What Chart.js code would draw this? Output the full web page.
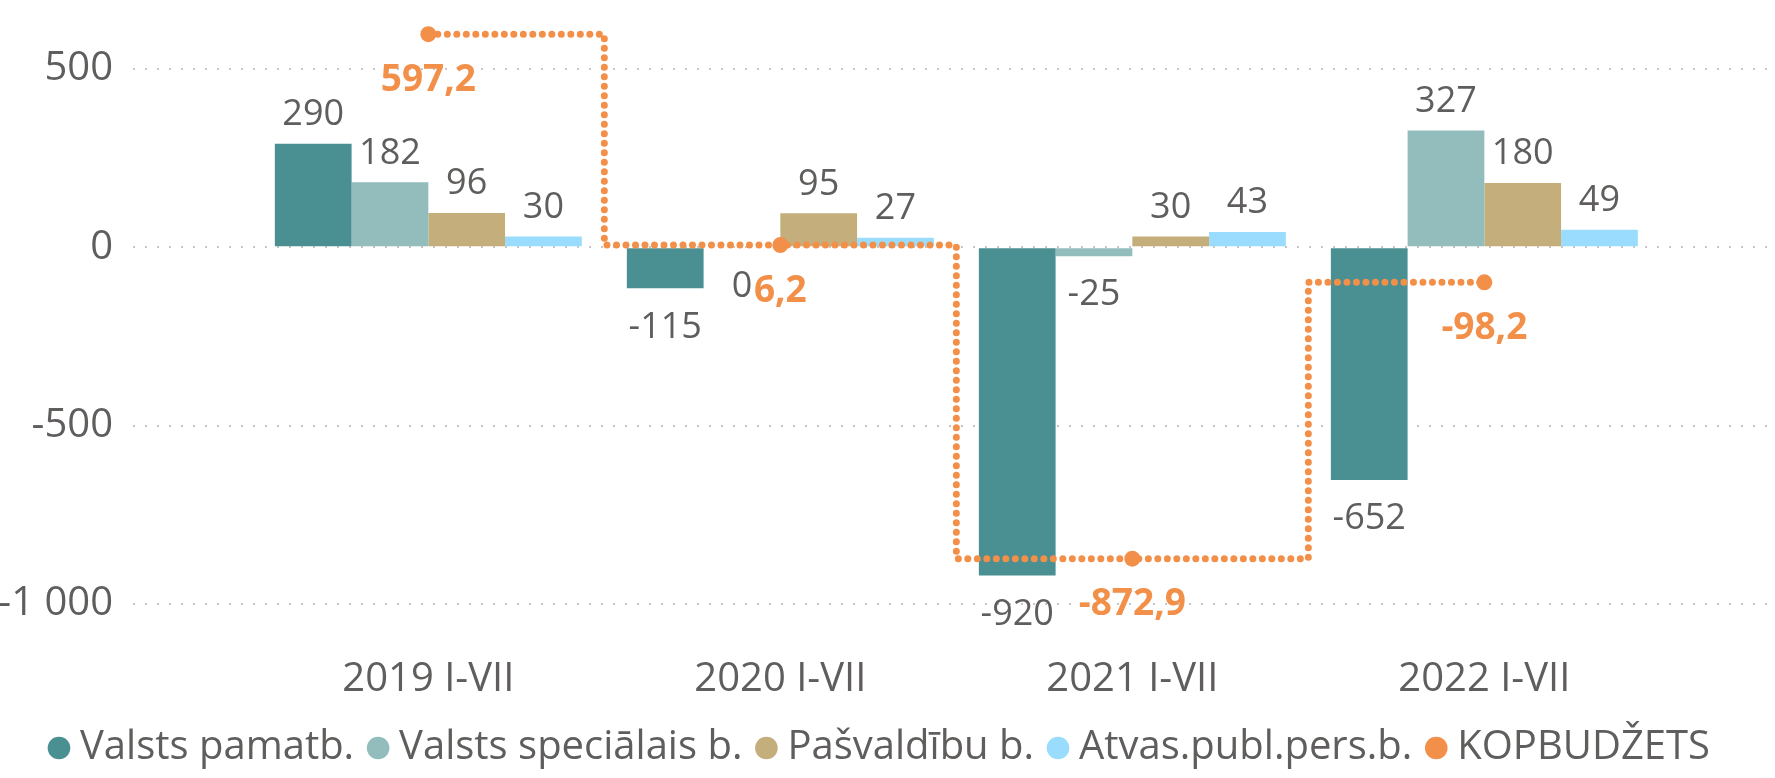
<!DOCTYPE html>
<html>
<head>
<meta charset="utf-8">
<script src="https://cdn.jsdelivr.net/npm/chart.js@4"></script>
<style>
  html, body { margin: 0; padding: 0; background: #fff; }
</style>
</head>
<body>
<canvas id="chart" width="1775" height="778"></canvas>
<script>
// dati (milj. EUR)
const categories = ["2019 I-VII", "2020 I-VII", "2021 I-VII", "2022 I-VII"];
const valstsPamatb = [290, -115, -920, -652];
const valstsSpecialais = [182, 0, -25, 327];
const pasvaldibu = [96, 95, 30, 180];
const atvasPubl = [30, 27, 43, 49];
const kopbudzets = [597.2, 6.2, -872.9, -98.2];
const yTicks = [-1000, -500, 0, 500];

const gray = "#605E5C";
const orange = "#F2904A";
const font = "'Open Sans', 'Noto Sans', sans-serif";

Chart.defaults.font.family = font;
Chart.defaults.color = gray;

const toPoints = arr => arr.map((v, i) => ({ x: i, y: v }));
const fmtThousands = v => {
  const s = Math.abs(v).toString().replace(/\B(?=(\d{3})+(?!\d))/g, " ");
  return (v < 0 ? "-" : "") + s;
};

// vērtību uzraksti virs / zem stabiņiem un līnijas
const valueLabels = {
  id: "valueLabels",
  afterDatasetsDraw(chart) {
    const ctx = chart.ctx;
    ctx.save();
    ctx.textAlign = "center";
    ctx.textBaseline = "middle";
    chart.data.datasets.forEach((ds, di) => {
      const meta = chart.getDatasetMeta(di);
      meta.data.forEach((el, i) => {
        const v = ds.data[i].y;
        if (ds.type === "line") {
          ctx.font = "bold 37px " + font;
          ctx.fillStyle = orange;
          ctx.fillText(v.toFixed(1).replace(".", ","), el.x, el.y + 46);
        } else {
          ctx.font = "36px " + font;
          ctx.fillStyle = gray;
          const y = v > 0 ? el.y - 29 : el.y + 39;
          ctx.fillText(String(v), el.x, y);
        }
      });
    });
    ctx.restore();
  }
};

new Chart(document.getElementById("chart"), {
  type: "bar",
  data: {
    datasets: [
      { label: "Valsts pamatb.", data: toPoints(valstsPamatb), backgroundColor: "#4A8F92" },
      { label: "Valsts speciālais b.", data: toPoints(valstsSpecialais), backgroundColor: "#93BDBD" },
      { label: "Pašvaldību b.", data: toPoints(pasvaldibu), backgroundColor: "#C4AF7C" },
      { label: "Atvas.publ.pers.b.", data: toPoints(atvasPubl), backgroundColor: "#9ADCFD" },
      {
        type: "line",
        label: "KOPBUDŽETS",
        data: toPoints(kopbudzets),
        borderColor: orange,
        backgroundColor: orange,
        borderWidth: 7,
        borderDash: [0, 9.5],
        borderCapStyle: "round",
        stepped: "middle",
        pointRadius: 8,
        pointBorderWidth: 0,
        pointBackgroundColor: orange,
        clip: false,
        order: -1
      }
    ]
  },
  options: {
    responsive: false,
    animation: false,
    categoryPercentage: 0.872,
    barPercentage: 1.0,
    layout: { padding: { top: 20, right: 7, bottom: 0, left: 0 } },
    scales: {
      x: {
        type: "linear",
        offset: false,
        min: -0.839,
        max: 3.803,
        grid: { display: false },
        border: { display: false },
        afterBuildTicks: scale => { scale.ticks = categories.map((_, i) => ({ value: i })); },
        afterFit: scale => { scale.height = 61; },
        ticks: {
          padding: 4,
          font: { size: 40 },
          color: gray,
          callback: v => categories[v]
        }
      },
      y: {
        min: -1112,
        max: 637,
        border: { display: false, dash: [2, 10] },
        grid: { color: "#C8C6C4", lineWidth: 2, drawTicks: false },
        afterBuildTicks: scale => { scale.ticks = yTicks.map(v => ({ value: v })); },
        afterFit: scale => {
          scale.width = 133;
          scale.paddingTop = 0;
          scale.paddingBottom = 0;
        },
        ticks: {
          padding: 20,
          font: { size: 40 },
          color: gray,
          callback: v => fmtThousands(v)
        }
      }
    },
    plugins: {
      tooltip: { enabled: false },
      legend: {
        position: "bottom",
        labels: {
          usePointStyle: true,
          pointStyle: "circle",
          boxWidth: 2,
          boxHeight: 16,
          padding: 23,
          font: { size: 40 },
          color: gray,
          sort: (a, b) => a.datasetIndex - b.datasetIndex,
          generateLabels: chart => Chart.defaults.plugins.legend.labels.generateLabels(chart)
            .map(item => Object.assign(item, { lineWidth: 0, lineDash: [], strokeStyle: item.fillStyle }))
        }
      }
    }
  },
  plugins: [valueLabels]
});
</script>
</body>
</html>
